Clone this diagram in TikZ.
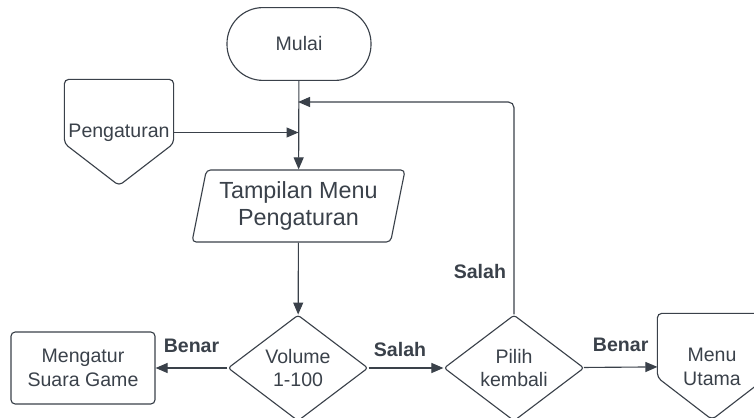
\documentclass[tikz,border=0pt]{standalone}
\usepackage{fontspec}
\setmainfont{Liberation Sans}
\definecolor{ink}{RGB}{58,65,74}
\usetikzlibrary{arrows.meta,
                positioning,
                shapes.geometric}

\begin{document}
\begin{tikzpicture}[
			x=0.025cm, y=-0.025cm,
			line width=0.8pt,
			color=ink,
			every node/.style = {font=\fontsize{13.9}{17}\selectfont, align=center, text=ink},
			term/.style = {draw, rectangle, rounded corners=0.9cm, minimum width=3.6cm, minimum height=1.82cm},
			proc/.style = {draw, rectangle, rounded corners=3pt, minimum width=3.6cm, minimum height=1.8cm},
			io/.style = {draw, trapezium, trapezium left angle=73.5, trapezium right angle=106.5, trapezium stretches body,
				rounded corners=3pt, minimum width=5.325cm, minimum height=1.8cm, inner sep=0pt,
				font=\fontsize{16.6}{19.2}\selectfont},
			dec/.style = {draw, diamond, aspect=1.32, inner sep=0pt, rounded corners=2pt, minimum width=3.5cm, minimum height=2.65cm},
			off/.style = {inner sep=0pt, minimum width=2.7cm, minimum height=2.625cm},
			offline/.style = {draw, rounded corners=3pt},
			lbl/.style = {font=\bfseries\fontsize{13.9}{17}\selectfont},
			flow/.style = {draw, -{Triangle[length=0.3cm, width=0.25cm]}},
			]
			\path[use as bounding box, clip] (0,0) rectangle (754,418);
			% nodes
			\node[term] (mulai) at (299,44) {Mulai};
			\node[off] (peng) at (119,132.5) {Pengaturan};
			\node[io] (tampil) at (298.5,206) {Tampilan Menu\\Pengaturan};
			\node[dec] (vol) at (298,368) {Volume\\1-100};
			\node[proc] (atur) at (83,368) {Mengatur\\Suara Game};
			\node[dec] (pilih) at (514,368) {Pilih\\kembali};
			\node[off] (menu) at (712,366.5) {Menu\\Utama};
			% off-page outlines
			\draw[offline] (peng.south) -- ([yshift=1.05cm]peng.south west) -- (peng.north west)
				-- (peng.north east) -- ([yshift=1.05cm]peng.south east) -- cycle;
			\draw[offline] (menu.south) -- ([yshift=1.05cm]menu.south west) -- (menu.north west)
				-- (menu.north east) -- ([yshift=1.05cm]menu.south east) -- cycle;
			% joins on the main line
			\coordinate (j1) at (298,102);
			\coordinate (j2) at (tampil.north |- peng.east);
			% edges
			\draw[flow] (mulai) -- (tampil);
			\draw[flow] (peng.east) -- (j2);
			\draw[flow, rounded corners=4pt] (pilih.north) |- node[lbl, pos=0.1, left=2pt] {Salah} (j1);
			\draw[flow] (tampil) -- (vol);
			\draw[flow] (vol) -- node[lbl, yshift=0.55cm] {Benar} (atur);
			\draw[flow] (vol) -- node[lbl, xshift=-0.15cm, yshift=0.45cm] {Salah} (pilih);
			\draw[flow] (pilih) -- node[lbl, yshift=0.55cm] {Benar} (menu);
		\end{tikzpicture}
\end{document}
